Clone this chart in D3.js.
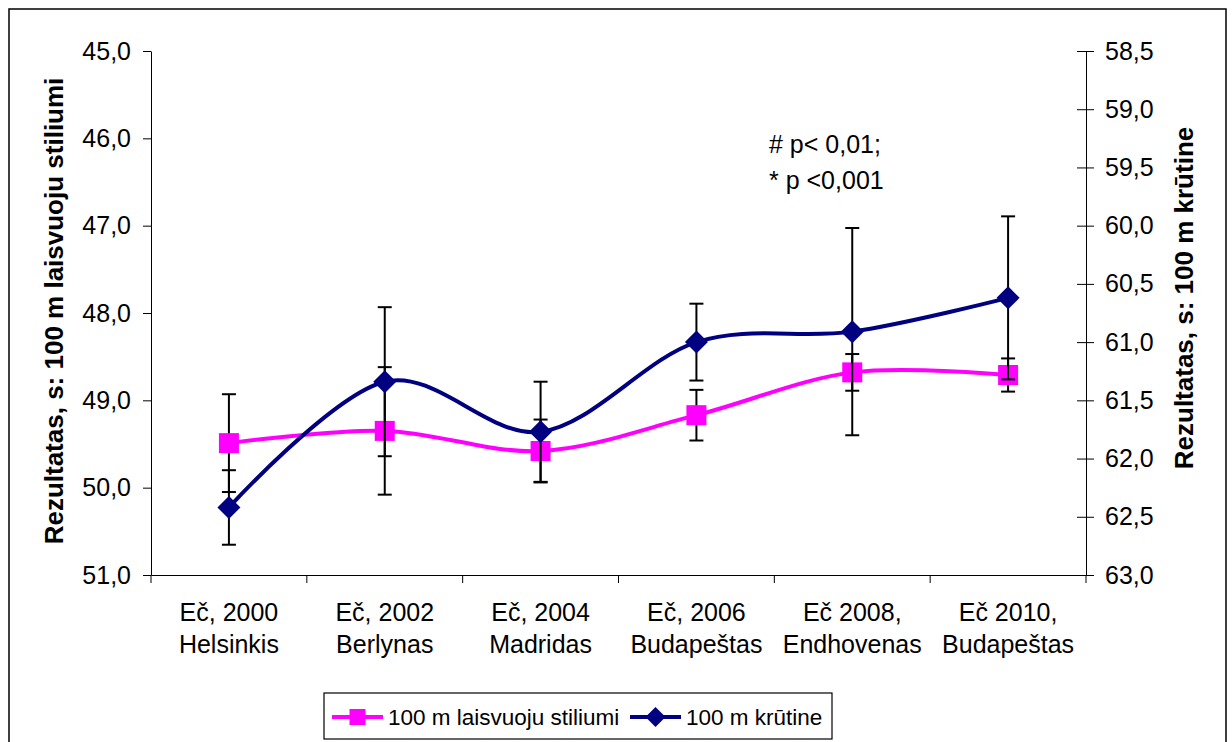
<!DOCTYPE html>
<html>
<head>
<meta charset="utf-8">
<script src="https://cdn.jsdelivr.net/npm/d3@7"></script>
<style>
  html, body { margin: 0; padding: 0; background: #fff; }
  svg { display: block; font-family: "Liberation Sans", Arial, sans-serif; }
</style>
</head>
<body>
<svg id="chart" width="1232" height="742"></svg>
<script>
// ---------- data ----------
const categoryLine1 = ["Eč, 2000", "Eč, 2002", "Eč, 2004", "Eč, 2006", "Eč 2008,", "Eč 2010,"];
const categoryLine2 = ["Helsinkis", "Berlynas", "Madridas", "Budapeštas", "Endhovenas", "Budapeštas"];
const freestyleName = "100 m laisvuoju stiliumi";
const freestyle    = [49.49, 49.35, 49.58, 49.17, 48.68, 48.71];
const freestyleErr = [0.56, 0.73, 0.36, 0.29, 0.21, 0.19];
const breastName = "100 m krūtine";
const breast    = [62.42, 61.34, 61.77, 61.00, 60.91, 60.62];
const breastErr = [0.32, 0.64, 0.43, 0.33, 0.89, 0.70];
const leftTicks  = [45, 46, 47, 48, 49, 50, 51];
const rightTicks = [58.5, 59, 59.5, 60, 60.5, 61, 61.5, 62, 62.5, 63];
const leftTitle  = "Rezultatas, s: 100 m laisvuoju stiliumi";
const rightTitle = "Rezultatas, s: 100 m krūtine";
const noteLines  = ["# p< 0,01;", "* p <0,001"];

// ---------- layout ----------
const svg = d3.select("#chart");
const plotL = 151, plotR = 1086, plotT = 51, plotB = 575;
const pink = "#FF00FF", navy = "#000080";
const fmt = d => d.toFixed(1).replace(".", ",");

// outer border
svg.append("rect").attr("x", 9).attr("y", 9).attr("width", 1217).attr("height", 740)
  .attr("fill", "#fff").attr("stroke", "#000").attr("stroke-width", 1.5);

const idx = d3.range(categoryLine1.length);
const x = d3.scaleBand().domain(idx).range([plotL, plotR]).padding(0);
const cx = i => x(i) + x.bandwidth() / 2;
const yL = d3.scaleLinear().domain([45, 51]).range([plotT, plotB]);
const yR = d3.scaleLinear().domain([58.5, 63]).range([plotT, plotB]);

// left axis
const gL = svg.append("g").attr("transform", `translate(${plotL},0)`)
  .call(d3.axisLeft(yL).tickValues(leftTicks).tickFormat(fmt).tickSize(8).tickSizeOuter(0).tickPadding(12));
gL.selectAll("text").attr("font-size", 25).attr("fill", "#000").attr("font-family", "Liberation Sans, Arial, sans-serif");
gL.selectAll("line,path").attr("stroke", "#000");

// right axis
const gR = svg.append("g").attr("transform", `translate(${plotR},0)`)
  .call(d3.axisRight(yR).tickValues(rightTicks).tickFormat(fmt).tickSize(8).tickSizeOuter(0).tickPadding(11));
gR.selectAll(".tick line").attr("x1", -9);
gR.selectAll("text").attr("font-size", 25).attr("fill", "#000").attr("font-family", "Liberation Sans, Arial, sans-serif");
gR.selectAll("line,path").attr("stroke", "#000");

// bottom axis (ticks between categories)
const gX = svg.append("g").attr("transform", `translate(0,${plotB})`)
  .call(d3.axisBottom(x).tickSize(0).tickSizeOuter(0).tickFormat(""));
gX.select("path").attr("stroke", "#000");
const bounds = idx.map(i => x(i)).concat([plotR]);
gX.selectAll("line.bound").data(bounds).join("line").attr("class", "bound")
  .attr("x1", d => d).attr("x2", d => d).attr("y1", 0).attr("y2", 8).attr("stroke", "#000");
const lab = gX.selectAll("text.cat").data(idx).join("text").attr("class", "cat")
  .attr("text-anchor", "middle").attr("font-size", 25).attr("fill", "#000");
lab.append("tspan").attr("x", i => cx(i)).attr("y", 46).text(i => categoryLine1[i]);
lab.append("tspan").attr("x", i => cx(i)).attr("y", 78).text(i => categoryLine2[i]);

// axis titles
svg.append("text").attr("transform", "translate(63,311) rotate(-90)")
  .attr("text-anchor", "middle").attr("font-size", 26).attr("font-weight", "bold").text(leftTitle);
svg.append("text").attr("transform", "translate(1193,298) rotate(-90)")
  .attr("text-anchor", "middle").attr("font-size", 26).attr("font-weight", "bold").text(rightTitle);

// annotation
svg.append("g").selectAll("text").data(noteLines).join("text")
  .attr("x", 769).attr("y", (d, i) => 153 + i * 36).attr("font-size", 25).text(d => d);

const curve = d3.curveCardinal.tension(0);

function drawSeries(vals, errs, yS, color, marker) {
  const g = svg.append("g");
  g.append("path").datum(idx)
    .attr("d", d3.line().x(cx).y(i => yS(vals[i])).curve(curve))
    .attr("fill", "none").attr("stroke", color).attr("stroke-width", 4);
  const eb = g.selectAll("g.err").data(idx).join("g").attr("class", "err")
    .attr("stroke", "#000").attr("stroke-width", 2);
  eb.append("line").attr("x1", cx).attr("x2", cx)
    .attr("y1", i => yS(vals[i] - errs[i])).attr("y2", i => yS(vals[i] + errs[i]));
  eb.append("line").attr("x1", i => cx(i) - 7).attr("x2", i => cx(i) + 7)
    .attr("y1", i => yS(vals[i] + errs[i])).attr("y2", i => yS(vals[i] + errs[i]));
  eb.append("line").attr("x1", i => cx(i) - 7).attr("x2", i => cx(i) + 7)
    .attr("y1", i => yS(vals[i] - errs[i])).attr("y2", i => yS(vals[i] - errs[i]));
  g.selectAll("path.mk").data(idx).join("path").attr("class", "mk")
    .attr("transform", i => `translate(${cx(i)},${yS(vals[i])})`)
    .attr("d", marker).attr("fill", color);
}
const squarePath = "M-10,-10H10V10H-10Z";
const diamondPath = "M0,-11.5L11.5,0L0,11.5L-11.5,0Z";
drawSeries(freestyle, freestyleErr, yL, pink, squarePath);
drawSeries(breast, breastErr, yR, navy, diamondPath);

// legend
const lg = svg.append("g");
lg.append("rect").attr("x", 324).attr("y", 693).attr("width", 508).attr("height", 46)
  .attr("fill", "#fff").attr("stroke", "#000").attr("stroke-width", 1.2);
const items = [
  { name: freestyleName, color: pink, marker: "M-8,-8H8V8H-8Z", x0: 332 },
  { name: breastName, color: navy, marker: "M0,-10L10,0L0,10L-10,0Z", x0: 630 }
];
const li = lg.selectAll("g.it").data(items).join("g").attr("class", "it")
  .attr("transform", d => `translate(${d.x0},717)`);
li.append("line").attr("x1", 0).attr("x2", 51).attr("stroke", d => d.color).attr("stroke-width", 4);
li.append("path").attr("transform", "translate(25.5,0)").attr("d", d => d.marker).attr("fill", d => d.color);
li.append("text").attr("x", 56).attr("y", 8).attr("font-size", 22.5).text(d => d.name);
</script>
</body>
</html>
